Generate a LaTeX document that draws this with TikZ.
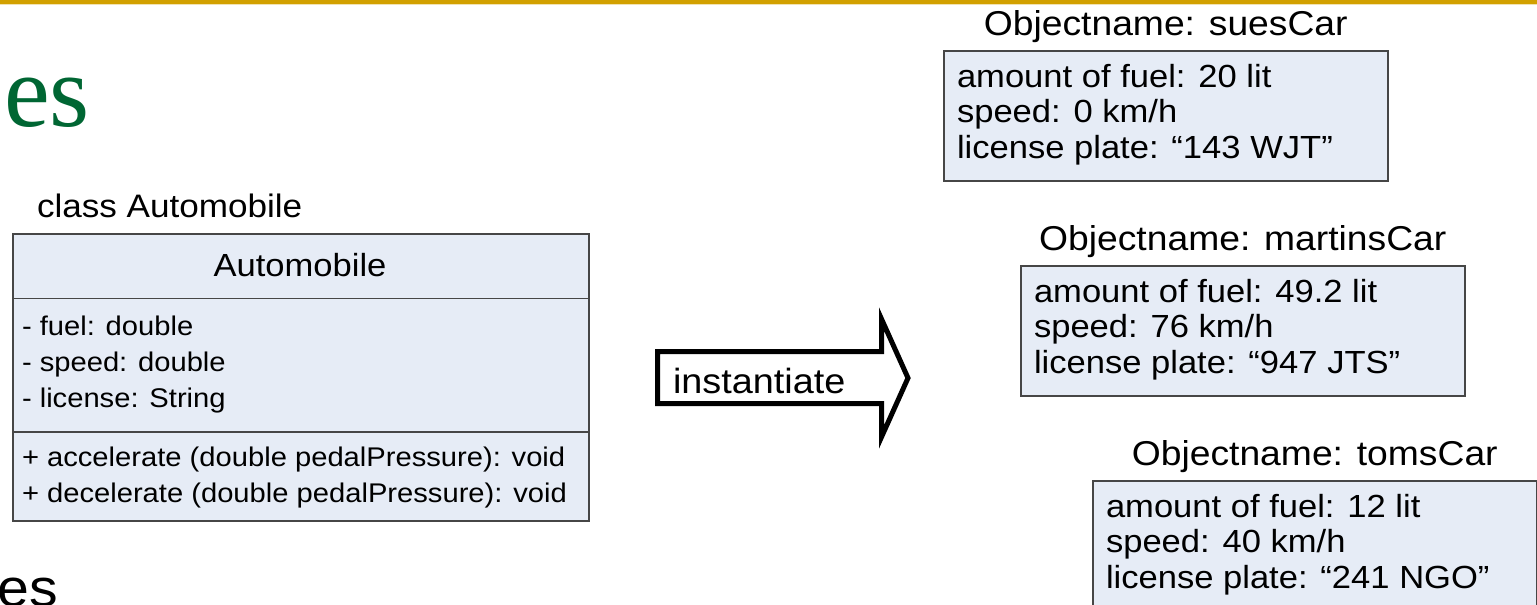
\documentclass[tikz,border=0pt]{standalone}
\usepackage{fontspec}
\setmainfont{Liberation Sans}[FakeStretch=1.08]
\newfontfamily\titleserif{Liberation Serif}
\usetikzlibrary{calc}

\definecolor{rulegold}{RGB}{210,160,0}
\definecolor{headgreen}{RGB}{0,102,51}
\definecolor{boxfill}{RGB}{230,236,246}
\definecolor{boxline}{RGB}{70,70,70}

\tikzset{
  txt/.style={inner sep=0pt, outer sep=0pt, anchor=base west, font=\fontsize{27}{32}\selectfont},
  objtxt/.style={inner sep=0pt, outer sep=0pt, anchor=base west, font=\fontsize{32}{36}\selectfont},
  objtitle/.style={inner sep=0pt, outer sep=0pt, anchor=base, font=\fontsize{34.5}{38}\selectfont},
  boxframe/.style={draw=boxline, fill=boxfill, line width=1.5pt, rectangle, inner sep=0pt, anchor=north west},
  divider/.style={draw=boxline, line width=1.5pt},
  blockarrow/.style={draw=black, fill=white, line width=5pt, line join=miter},
}

% one object instance: name, left x, top y, title, three attribute lines
% (y grows downwards in this picture)
\newcommand\objectcard[7]{%
  \node[boxframe, minimum width=444pt, minimum height=130pt] (#1) at (#2,#3) {};
  \node[objtitle] (#1-title) at ($(#1.north)+(0,-15)$) {#4};
  \node[objtxt] (#1-a) at ($(#1.north west)+(14,37)$) {#5};
  \node[objtxt] (#1-b) at ($(#1.north west)+(14,72.5)$) {#6};
  \node[objtxt] (#1-c) at ($(#1.north west)+(14,108)$) {#7};
}

\begin{document}
\begin{tikzpicture}[x=1pt, y=-1pt]
\useasboundingbox (0,0) rectangle (1537,605);

% slide header rule and cropped title fragments
\fill[rulegold] (0,0) rectangle (1537,4);
\fill[rulegold!30] (0,4) rectangle (1537,5);
\node[inner sep=0pt, anchor=base west, text=headgreen, font=\titleserif\fontsize{103}{103}\selectfont] (headfrag) at (4,126) {es};
\node[inner sep=0pt, anchor=base west, font=\fontsize{53}{53}\selectfont] (bulletfrag) at (-3,606) {es};

% class diagram
\node[txt, font=\fontsize{32.5}{36}\selectfont] (classlabel) at (37,217) {class Automobile};
\node[boxframe, minimum width=576pt, minimum height=287pt] (uml) at (12,233) {};
\draw[divider] (uml.west |- 0,298.5) -- (uml.east |- 0,298.5);
\draw[divider] (uml.west |- 0,432) -- (uml.east |- 0,432);
\node[objtitle, font=\fontsize{32}{36}\selectfont] (umlname) at (300,276) {Automobile};
\node[txt] (attr1) at (22,335) {- fuel: double};
\node[txt] (attr2) at (22,371) {- speed: double};
\node[txt] (attr3) at (22,407) {- license: String};
\node[txt] (meth1) at (22,466) {+ accelerate (double pedalPressure): void};
\node[txt] (meth2) at (22,502) {+ decelerate (double pedalPressure): void};

% instantiate block arrow
\draw[blockarrow] (657.5,351.5) -- (881.5,351.5) -- (881.5,319) -- (908,378) -- (881.5,437) -- (881.5,403.5) -- (657.5,403.5) -- cycle;
\node[txt, font=\fontsize{35}{36}\selectfont] (inst) at (673,393) {instantiate};

% object instances
\objectcard{sues}{943}{50}{Objectname: suesCar}{amount of fuel: 20 lit}{speed: 0 km/h}{license plate: “143 WJT”}
\objectcard{martins}{1020}{265}{Objectname: martinsCar}{amount of fuel: 49.2 lit}{speed: 76 km/h}{license plate: “947 JTS”}
\objectcard{toms}{1092}{480}{Objectname: tomsCar}{amount of fuel: 12 lit}{speed: 40 km/h}{license plate: “241 NGO”}
\end{tikzpicture}
\end{document}
